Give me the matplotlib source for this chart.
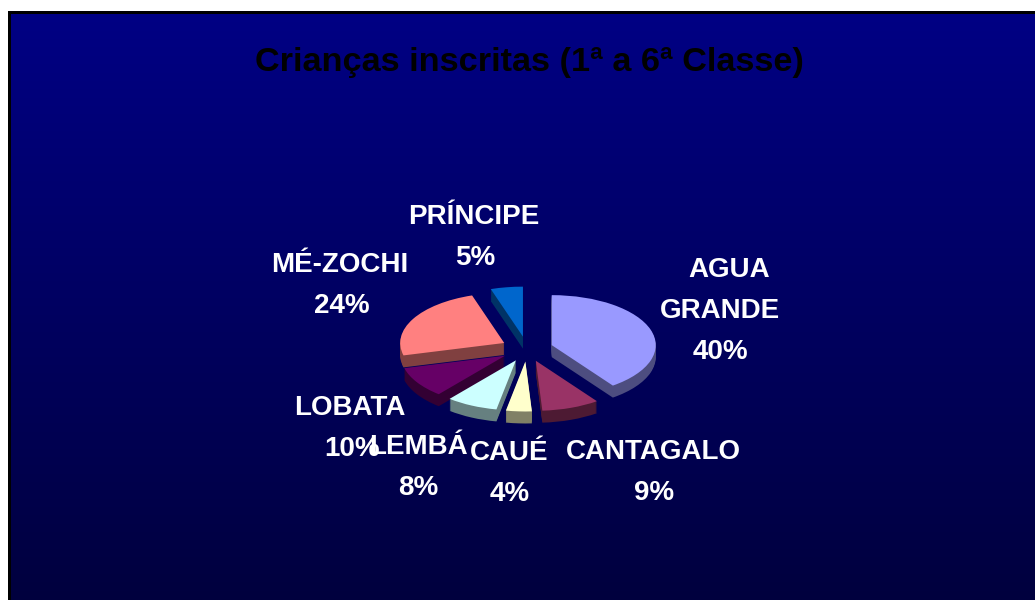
#!/usr/bin/env python3
import numpy as np
import matplotlib
matplotlib.use('Agg')
from matplotlib import pyplot as plt
from matplotlib.colors import LinearSegmentedColormap, to_rgb
from matplotlib.patches import Rectangle

title = 'Crianças inscritas (1ª a 6ª Classe)'
districts = [['AGUA', 'GRANDE'], ['CANTAGALO'], ['CAUÉ'], ['LEMBÁ'],
             ['LOBATA'], ['MÉ-ZOCHI'], ['PRÍNCIPE']]
shares = [40, 9, 4, 8, 10, 24, 5]
colors = ['#9999FF', '#993366', '#FFFFCC', '#CCFFFF', '#660066', '#FF8080', '#0066CC']

# pixel x of every line in a label block, y of the first line
label_x = [[729, 720, 720], [653, 654], [509, 510], [418, 418], [350, 352], [340, 342], [474, 475]]
label_y = [270, 452, 453, 447, 408, 265, 217]
# back to front
draw_rank = [2, 6, 5, 4, 3, 1, 0]

W, H = 1035, 600
plt.rcParams['font.family'] = ['Liberation Sans', 'DejaVu Sans']

fig = plt.figure(figsize=(W / 100, H / 100), dpi=100, facecolor='white')

bg = fig.add_axes([0, 0, 1, 1])
cmap = LinearSegmentedColormap.from_list('bg', ['#000084', '#00003E'])
bg.imshow(np.linspace(0, 1, 256).reshape(-1, 1), cmap=cmap, aspect='auto',
          extent=[10, W, H, 13], zorder=1)
bg.set_xlim(0, W)
bg.set_ylim(H, 0)
bg.axis('off')
bg.add_patch(Rectangle((8, 11), 3, H, color='#000000', lw=0, zorder=2))
bg.add_patch(Rectangle((8, 11), W, 3, color='#000000', lw=0, zorder=2))

# squashed pie, radius in px, centre in px
cx, cy, rx, ry = 527, 349, 104, 50
lim = 1.6
ax = fig.add_axes([(cx - lim * rx) / W, 1 - (cy + lim * ry) / H,
                   2 * lim * rx / W, 2 * lim * ry / H])
ax.patch.set_alpha(0)

depth = 0.24
layers = np.linspace(depth, 0, 13)
for k, d in enumerate(layers):
    top = k == len(layers) - 1
    wedges, _ = ax.pie(shares, startangle=90, counterclock=False, center=(0, -d),
                       explode=[0.25] * len(shares), radius=1)
    for w, c, r in zip(wedges, colors, draw_rank):
        rgb = np.array(to_rgb(c))
        w.set_facecolor(rgb if top else rgb * 0.5)
        w.set_edgecolor('none')
        w.set_zorder(r * 100 + k)
ax.set_aspect('auto')
ax.set_xlim(-lim, lim)
ax.set_ylim(-lim, lim)
ax.axis('off')

bg.text(529, 63, title, color='black', fontsize=24.7, fontweight='bold',
        ha='center', va='center', zorder=5)

overlay = fig.add_axes([0, 0, 1, 1])
overlay.set_xlim(0, W)
overlay.set_ylim(H, 0)
overlay.axis('off')
overlay.patch.set_alpha(0)
for lines, pct, xs, y in zip(districts, shares, label_x, label_y):
    for i, line in enumerate(lines + [f'{pct}%']):
        overlay.text(xs[i], y + i * 41, line, color='white', fontsize=20, fontweight='bold',
                     ha='center', va='center')

fig.savefig('out.png', dpi=100)
